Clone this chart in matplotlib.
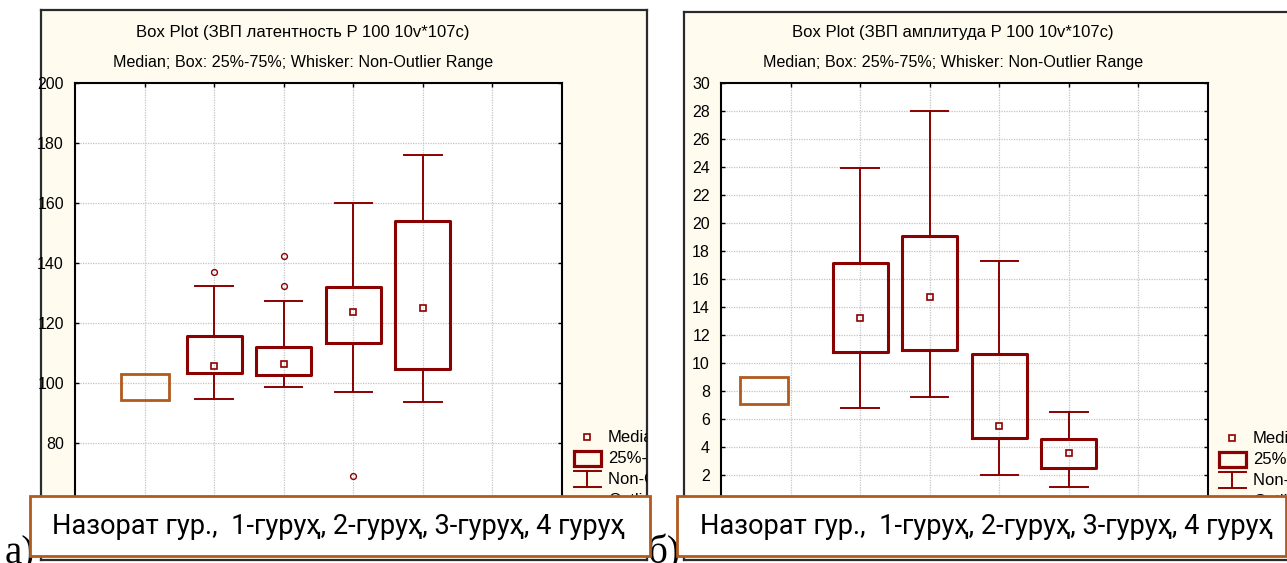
import matplotlib.pyplot as plt
from matplotlib.patches import Rectangle

W, H = 1287, 563
CREAM = '#fffbef'
MAROON = '#8b0000'
RUST = '#b05a1e'
GRID = '#c4c4c4'
SANS = ['Liberation Sans', 'DejaVu Sans']

# --- latency panel (а) ---
lat_pos = [2, 3, 4, 5]
lat_q1 = [103.3, 102.6, 113.4, 104.7]
lat_q3 = [115.7, 112.0, 132.0, 154.0]
lat_med = [105.8, 106.3, 123.7, 125.1]
lat_lo = [94.7, 98.8, 97.0, 93.6]
lat_hi = [132.3, 127.3, 160.1, 176.1]
lat_out = [[137.0], [132.3, 142.3], [69.0], []]
lat_ctrl = (1.0, 94.3, 103.0)   # control group: x, low, high
lat_ticks = list(range(60, 201, 20))

# --- amplitude panel (б) ---
amp_pos = [2, 3, 4, 5]
amp_q1 = [10.76, 10.9, 4.66, 2.47]
amp_q3 = [17.16, 19.07, 10.67, 4.6]
amp_med = [13.24, 14.7, 5.52, 3.6]
amp_lo = [6.8, 7.6, 2.0, 1.17]
amp_hi = [23.93, 28.0, 17.3, 6.5]
amp_out = [[], [], [], []]
amp_ctrl = (0.62, 7.1, 8.97)
amp_ticks = list(range(0, 31, 2))

titles = ['Box Plot (ЗВП латентность P 100 10v*107c)',
          'Box Plot (ЗВП амплитуда P 100 10v*107c)']
subtitle = 'Median; Box: 25%-75%; Whisker: Non-Outlier Range'
legend_labels = ['Median', '25%-75%', 'Non-Outlier Range', 'Outliers']
groups_text = 'Назорат гур.,  1-гуруҳ, 2-гуруҳ, 3-гуруҳ, 4 гуруҳ'
panel_tags = ['а)', 'б)']


def rect(x0, y0, x1, y1):
    return [x0 / W, 1 - y1 / H, (x1 - x0) / W, (y1 - y0) / H]


def frame_axes(fig, x0, y0, x1, y1):
    ax = fig.add_axes(rect(x0, y0, x1, y1))
    ax.set_xlim(x0, x1)
    ax.set_ylim(y1, y0)
    ax.set_facecolor(CREAM)
    ax.set_xticks([])
    ax.set_yticks([])
    for s in ax.spines.values():
        s.set_color('#2a2a2a')
        s.set_linewidth(1.6)
    return ax


def draw_legend(ax, x, y):
    ax.plot([x], [y], marker='s', ms=4.2, mfc='none', mec=MAROON, mew=1.2)
    ax.add_patch(Rectangle((x - 13.5, y + 14), 27, 15, fill=False,
                           ec=MAROON, lw=2.3))
    ax.plot([x - 13.5, x + 13.5], [y + 34, y + 34], color=MAROON, lw=1.4)
    ax.plot([x, x], [y + 34, y + 50], color=MAROON, lw=1.4)
    ax.plot([x - 13.5, x + 13.5], [y + 50, y + 50], color=MAROON, lw=1.4)
    ax.plot([x], [y + 63], marker='o', ms=4.2, mfc='none', mec=MAROON, mew=1.0)
    for i, lab in enumerate(legend_labels):
        ax.text(x + 21, y + [0, 21, 42, 63][i], lab, fontsize=12,
                family=SANS, va='center', ha='left', clip_on=True)


def box_panel(fig, box, pos, q1, q3, med, lo, hi, outs, ctrl, ticks, ylim):
    ax = fig.add_axes(rect(*box))
    stats = []
    for i in range(len(pos)):
        stats.append(dict(q1=q1[i], q3=q3[i], med=med[i], whislo=lo[i],
                          whishi=hi[i], fliers=outs[i]))
    ax.bxp(stats, positions=pos, widths=0.79, capwidths=0.54,
           manage_ticks=False,
           boxprops=dict(color=MAROON, lw=2.2),
           whiskerprops=dict(color=MAROON, lw=1.4),
           capprops=dict(color=MAROON, lw=1.4),
           medianprops=dict(lw=0),
           flierprops=dict(marker='o', ms=4.2, mfc='none', mec=MAROON, mew=1.0))
    ax.plot(pos, med, ls='none', marker='s', ms=4.2, mfc='none',
            mec=MAROON, mew=1.2, zorder=4)
    cx, clo, chi = ctrl
    ax.add_patch(Rectangle((cx - 0.345, clo), 0.69, chi - clo, fill=False,
                           ec=RUST, lw=2.0, zorder=4))
    ax.set_xlim(0, 7)
    ax.set_ylim(*ylim)
    ax.set_xticks(range(1, 7))
    ax.set_yticks(ticks)
    ax.tick_params(direction='in', length=3, width=1, top=True, right=True,
                   labelbottom=False, labelsize=11.5, pad=8, colors='black')
    for lab in ax.get_yticklabels():
        lab.set_family(SANS)
    ax.grid(True, color=GRID, lw=0.9, ls=(0, (1, 1)))
    ax.set_axisbelow(True)
    for s in ax.spines.values():
        s.set_color('black')
        s.set_linewidth(1.5)
    return ax


fig = plt.figure(figsize=(W / 100, H / 100), dpi=100, facecolor='white')

# left chart
fl = frame_axes(fig, 41, 10, 647, 560)
draw_legend(fl, 587, 437)
box_panel(fig, (75, 83, 562, 503), lat_pos, lat_q1, lat_q3, lat_med, lat_lo,
          lat_hi, lat_out, lat_ctrl, lat_ticks, (60, 200))

# right chart
fr = frame_axes(fig, 684, 12, 1310, 560)
draw_legend(fr, 1232, 438)
box_panel(fig, (721, 83, 1208, 503), amp_pos, amp_q1, amp_q3, amp_med, amp_lo,
          amp_hi, amp_out, amp_ctrl, amp_ticks, (0, 30))

# overlay: titles, group captions, panel tags
ov = fig.add_axes([0, 0, 1, 1])
ov.set_xlim(0, W)
ov.set_ylim(H, 0)
ov.axis('off')
ov.patch.set_alpha(0)

for cx, t in zip([303, 953], titles):
    ov.text(cx, 33, t, fontsize=12, family=SANS, ha='center', va='center')
    ov.text(cx, 62, subtitle, fontsize=11.6, family=SANS, ha='center', va='center')

for x, tag in zip([5, 647], panel_tags):
    ov.text(x, 563, tag, fontsize=28, family=['Liberation Serif', 'DejaVu Serif'],
            ha='left', va='baseline', zorder=1)

for x0, x1, tx in [(30, 650, 52), (677, 1286, 700)]:
    ov.add_patch(Rectangle((x0, 496), x1 - x0, 60, fc='white', ec=RUST,
                           lw=2.0, zorder=2))
    ov.text(tx, 527, groups_text, fontsize=19.6,
            family=['Roboto', 'Noto Sans', 'DejaVu Sans'],
            ha='left', va='center', zorder=3)

fig.savefig('out.png', dpi=100, facecolor='white')
